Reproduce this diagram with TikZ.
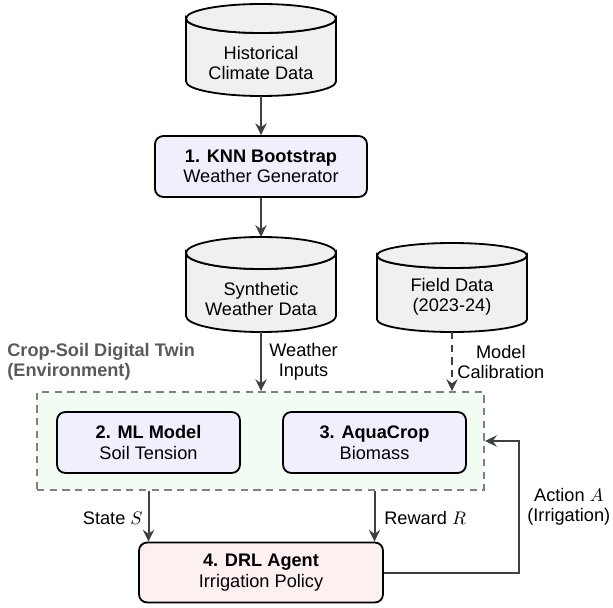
\documentclass[tikz,border=0pt]{standalone}
\usepackage{fontspec}
\setmainfont{Liberation Sans}
\usetikzlibrary{arrows.meta}

\definecolor{cylgray}{RGB}{240,240,240}
\definecolor{procblue}{RGB}{240,240,252}
\definecolor{agentred}{RGB}{253,240,240}
\definecolor{envgreen}{RGB}{242,252,242}
\definecolor{arrowgray}{RGB}{64,64,64}
\definecolor{envedge}{RGB}{128,128,128}
\definecolor{labelgray}{RGB}{90,90,90}

% database cylinder: #1 name, #2 centre x, #3 top y, #4 bottom y, #5 ellipse y radius,
% #6 text centre y, #7 text
\newcommand\dbcyl[7]{%
  \filldraw[cylline] (#2-75,#3+#5) -- (#2-75,#4-#5)
    arc[start angle=180, end angle=0, x radius=75, y radius=#5]
    -- (#2+75,#3+#5)
    arc[start angle=0, end angle=180, x radius=75, y radius=#5] -- cycle;
  \filldraw[cylline] (#2,#3+#5) ellipse[x radius=75, y radius=#5];
  \coordinate (#1-top) at (#2,#3);
  \coordinate (#1-bot) at (#2,#4);
  \node[txt] (#1) at (#2,#6) {#7};
}

\begin{document}
\begin{tikzpicture}[x=0.55pt,y=-0.55pt,
  font=\fontsize{10}{11.3}\selectfont,
  cylline/.style={draw=black, fill=cylgray, line width=1pt},
  txt/.style={align=center, inner sep=0pt},
  procbox/.style={draw=black, fill=procblue, line width=1pt, rounded corners=4.5pt,
    align=center, minimum width=100.6pt, minimum height=33.5pt, inner sep=0pt},
  agentbox/.style={procbox, fill=agentred, minimum width=134.2pt, minimum height=33pt},
  envbox/.style={draw=envedge, fill=envgreen, line width=1pt, dash pattern=on 4pt off 3pt,
    minimum width=245.9pt, minimum height=53.9pt, inner sep=0pt},
  arr/.style={draw=arrowgray, line width=1.1pt, -{Stealth[length=6.5pt,width=6.2pt,inset=2.2pt]}},
  dasharr/.style={arr, dash pattern=on 4pt off 3pt},
  lbl/.style={align=center, inner sep=0pt},
]
\useasboundingbox (0,0) rectangle (613,608);

% data sources
\dbcyl{hist}{261}{4}{96}{14.5}{63}{Historical\\Climate Data}
\dbcyl{synth}{261}{237}{332}{16}{299}{Synthetic\\Weather Data}
\dbcyl{field}{452}{243}{332}{12.5}{297}{Field Data\\(2023-24)}

% weather generator
\node[procbox, minimum width=116.6pt] (knn) at (261,166.5) {\textbf{1. KNN Bootstrap}\\Weather Generator};

% environment
\node[envbox] (env) at (260.5,441) {};
\node[lbl, anchor=west, align=left, text=labelgray, font=\fontsize{10}{11}\selectfont\bfseries]
  (envlbl) at (7,362) {Crop-Soil Digital Twin\\(Environment)};
\node[procbox] (ml) at (148.5,442.5) {\textbf{2. ML Model}\\Soil Tension};
\node[procbox] (aqua) at (374.5,442.5) {\textbf{3. AquaCrop}\\Biomass};

% agent
\node[agentbox] (drl) at (261,572.5) {\textbf{4. DRL Agent}\\Irrigation Policy};
\coordinate (actx) at (519,0);

% connectors
\draw[arr] (hist-bot) -- (knn.north);
\draw[arr] (knn.south) -- (synth-top);
\draw[arr] (synth-bot) -- (synth-bot |- env.north);
\draw[dasharr] (field-bot) -- (field-bot |- env.north);
\draw[arr] (ml.south |- env.south) -- (ml.south |- drl.north);
\draw[arr] (aqua.south |- env.south) -- (aqua.south |- drl.north);
\draw[arr] (drl.east) -- (drl.east -| actx) |- (env.east);

% connector labels
\node[lbl, anchor=west] (winp) at (269,362) {Weather\\Inputs};
\node[lbl, anchor=west] (mcal) at (457,362) {Model\\Calibration};
\node[lbl, anchor=east] (state) at (143,518) {State $S$};
\node[lbl, anchor=west] (reward) at (384,518) {Reward $R$};
\node[lbl, anchor=west, font=\fontsize{10}{10.7}\selectfont] (action) at (527,507) {Action $A$\\(Irrigation)};
\end{tikzpicture}
\end{document}
